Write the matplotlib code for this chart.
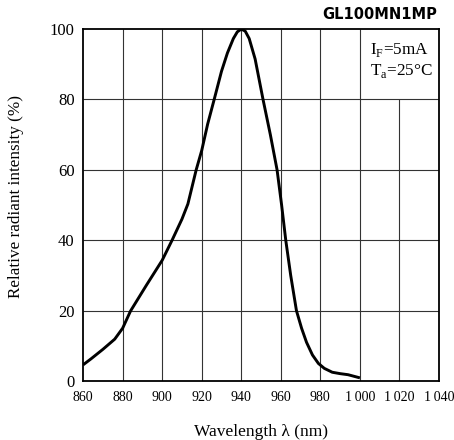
#!/usr/bin/env python3

import numpy as np
from matplotlib import pyplot as plt
from matplotlib.ticker import FuncFormatter

# relative radiant intensity vs wavelength
wavelength = [860, 864, 870, 876, 880, 884, 892, 900, 905, 910, 913, 917.2,
              920, 923, 926.3, 930, 933, 936, 938, 940, 942, 944, 947, 951,
              954.7, 958.1, 960.4, 962.5, 965, 967.9, 970.5, 973, 976, 979,
              982, 986, 990, 994, 1000]
intensity = [4.6, 6.3, 9.0, 11.9, 15.0, 19.9, 27.2, 34.3, 40.0, 46.0, 50.3,
             60.0, 65.5, 73.0, 80.0, 88.0, 93.2, 97.3, 99.2, 100.0, 99.4,
             97.3, 91.5, 80.0, 70.0, 60.0, 50.0, 40.0, 30.0, 20.0, 15.0,
             11.0, 7.4, 5.0, 3.6, 2.5, 2.1, 1.8, 0.9]

x_ticks = [860, 880, 900, 920, 940, 960, 980, 1000, 1020, 1040]
y_ticks = [0, 20, 40, 60, 80, 100]

title = "GL100MN1MP"
conditions = "I$_\\mathrm{F}$=5mA\nT$_\\mathrm{a}$=25\u00b0C"

plt.rcParams["font.family"] = ["Liberation Serif", "DejaVu Serif"]
plt.rcParams["mathtext.fontset"] = "custom"
plt.rcParams["mathtext.rm"] = "Liberation Serif"

fig = plt.figure(figsize=(4.54, 4.40), dpi=100)
ax = fig.add_axes([0.183, 0.134, 0.784, 0.800])

grid_kw = dict(color="#333333", lw=0.8, zorder=1)
for x in x_ticks[1:-1]:
    # the conditions box hides the top of the 1 020 line
    top = 80 if x == 1020 else 100
    ax.vlines(x, 0, top, **grid_kw)
for y in y_ticks[1:-1]:
    ax.hlines(y, x_ticks[0], x_ticks[-1], **grid_kw)

ax.plot(wavelength, intensity, color="black", lw=2.1, zorder=3,
        solid_capstyle="butt")

ax.set_xlim(860, 1040)
ax.set_ylim(0, 100)
ax.set_xticks(x_ticks)
ax.set_yticks(y_ticks)
ax.xaxis.set_major_formatter(
    FuncFormatter(lambda v, p: "{:,}".format(int(v)).replace(",", "\u2009")))
ax.tick_params(length=0)
ax.tick_params(axis="x", pad=7, labelsize=10)
ax.tick_params(axis="y", pad=6, labelsize=12)
for s in ax.spines.values():
    s.set_linewidth(1.3)

ax.text(1005, 96.5, conditions, fontsize=12.3, va="top", ha="left",
        linespacing=1.2, zorder=4)

ax.set_xlabel("Wavelength \u03bb (nm)", fontsize=12.5)
ax.set_ylabel("Relative radiant intensity (%)", fontsize=12.3)
ax.xaxis.set_label_coords(0.5, -0.122)
ax.yaxis.set_label_coords(-0.165, 0.523)

fig.text(0.963, 0.967, title, ha="right", va="center", fontsize=10.5,
         fontweight="bold", family="DejaVu Sans")

fig.savefig("out.png", dpi=100)
